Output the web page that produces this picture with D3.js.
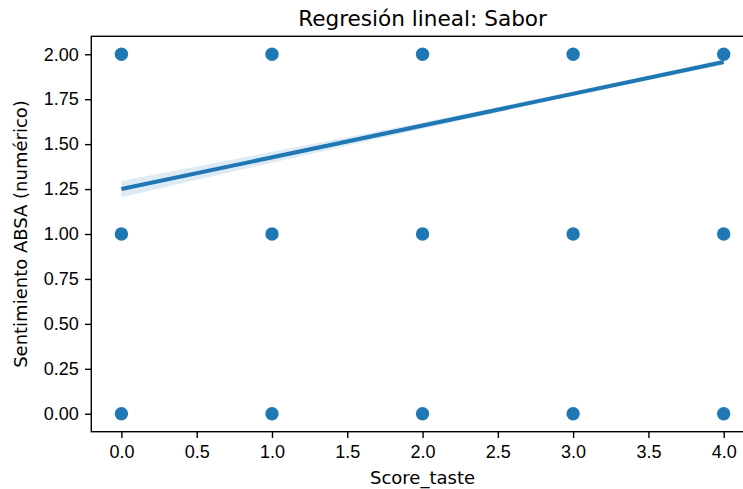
<!DOCTYPE html>
<html lang="es">
<head>
<meta charset="UTF-8">
<title>Regresión lineal: Sabor</title>
<style>
    body { margin: 0; background: #fff; }
    svg { display: block; font-family: "DejaVu Sans", sans-serif; }
    .tick text { font-size: 18px; fill: #000; }
    .tick line { stroke: #000; stroke-width: 1.4px; }
    .domain { display: none; }
</style>
</head>
<body>
<svg width="743" height="489"></svg>
<script src="https://d3js.org/d3.v7.min.js"></script>
<script>
// scatter points (Score_taste vs sentiment)
const scoreX = [0, 1, 2, 3, 4, 0, 1, 2, 3, 4, 0, 1, 2, 3, 4];
const sentY  = [2, 2, 2, 2, 2, 1, 1, 1, 1, 1, 0, 0, 0, 0, 0];

// fitted line and confidence band
const fitX = [0, 4];
const fitY = [1.25, 1.957];
const ciX  = [0, 1, 2, 3, 4];
const ciLo = [1.205, 1.397, 1.585, 1.769, 1.942];
const ciHi = [1.295, 1.457, 1.621, 1.793, 1.972];

const xTicks = [0, 0.5, 1, 1.5, 2, 2.5, 3, 3.5, 4];
const yTicks = [0, 0.25, 0.5, 0.75, 1, 1.25, 1.5, 1.75, 2];

const blue = "#1f77b4";
const margin = { left: 91.3, top: 36.3 };
const w = 662.5, h = 395.4;

const svg = d3.select("svg");
const g = svg.append("g").attr("transform", `translate(${margin.left},${margin.top})`);

const x = d3.scaleLinear().domain([-0.2, 4.2]).range([0, w]);
const y = d3.scaleLinear().domain([-0.1, 2.1]).range([h, 0]);

// confidence band
const band = ciX.map((v, i) => ({ x: v, lo: ciLo[i], hi: ciHi[i] }));
g.append("path")
    .datum(band)
    .attr("fill", blue)
    .attr("fill-opacity", 0.15)
    .attr("d", d3.area().x(d => x(d.x)).y0(d => y(d.lo)).y1(d => y(d.hi)));

// points
g.selectAll(".dot")
    .data(scoreX.map((v, i) => ({ x: v, y: sentY[i] })))
    .enter().append("circle")
    .attr("class", "dot")
    .attr("cx", d => x(d.x))
    .attr("cy", d => y(d.y))
    .attr("r", 6.7)
    .attr("fill", blue);

// regression line
g.append("path")
    .datum(fitX.map((v, i) => ({ x: v, y: fitY[i] })))
    .attr("fill", "none")
    .attr("stroke", blue)
    .attr("stroke-width", 4)
    .attr("d", d3.line().x(d => x(d.x)).y(d => y(d.y)));

// axes
const xAxis = g.append("g")
    .attr("transform", `translate(0,${h})`)
    .call(d3.axisBottom(x).tickValues(xTicks).tickFormat(d3.format(".1f")).tickSize(6.3).tickPadding(6.3));
const yAxis = g.append("g")
    .call(d3.axisLeft(y).tickValues(yTicks).tickFormat(d3.format(".2f")).tickSize(6.3).tickPadding(6.3));
xAxis.selectAll(".tick text").attr("dy", "0.75em");

// spines
g.append("rect")
    .attr("width", w).attr("height", h)
    .attr("fill", "none")
    .attr("stroke", "#000")
    .attr("stroke-width", 1.4);

// labels
svg.append("text")
    .attr("x", margin.left + w / 2).attr("y", 26)
    .attr("text-anchor", "middle")
    .attr("font-size", 21.6)
    .text("Regresión lineal: Sabor");

svg.append("text")
    .attr("x", margin.left + w / 2).attr("y", 484)
    .attr("text-anchor", "middle")
    .attr("font-size", 18)
    .text("Score_taste");

svg.append("text")
    .attr("transform", `translate(27,${margin.top + h / 2}) rotate(-90)`)
    .attr("text-anchor", "middle")
    .attr("font-size", 18)
    .text("Sentimiento ABSA (numérico)");
</script>
</body>
</html>
